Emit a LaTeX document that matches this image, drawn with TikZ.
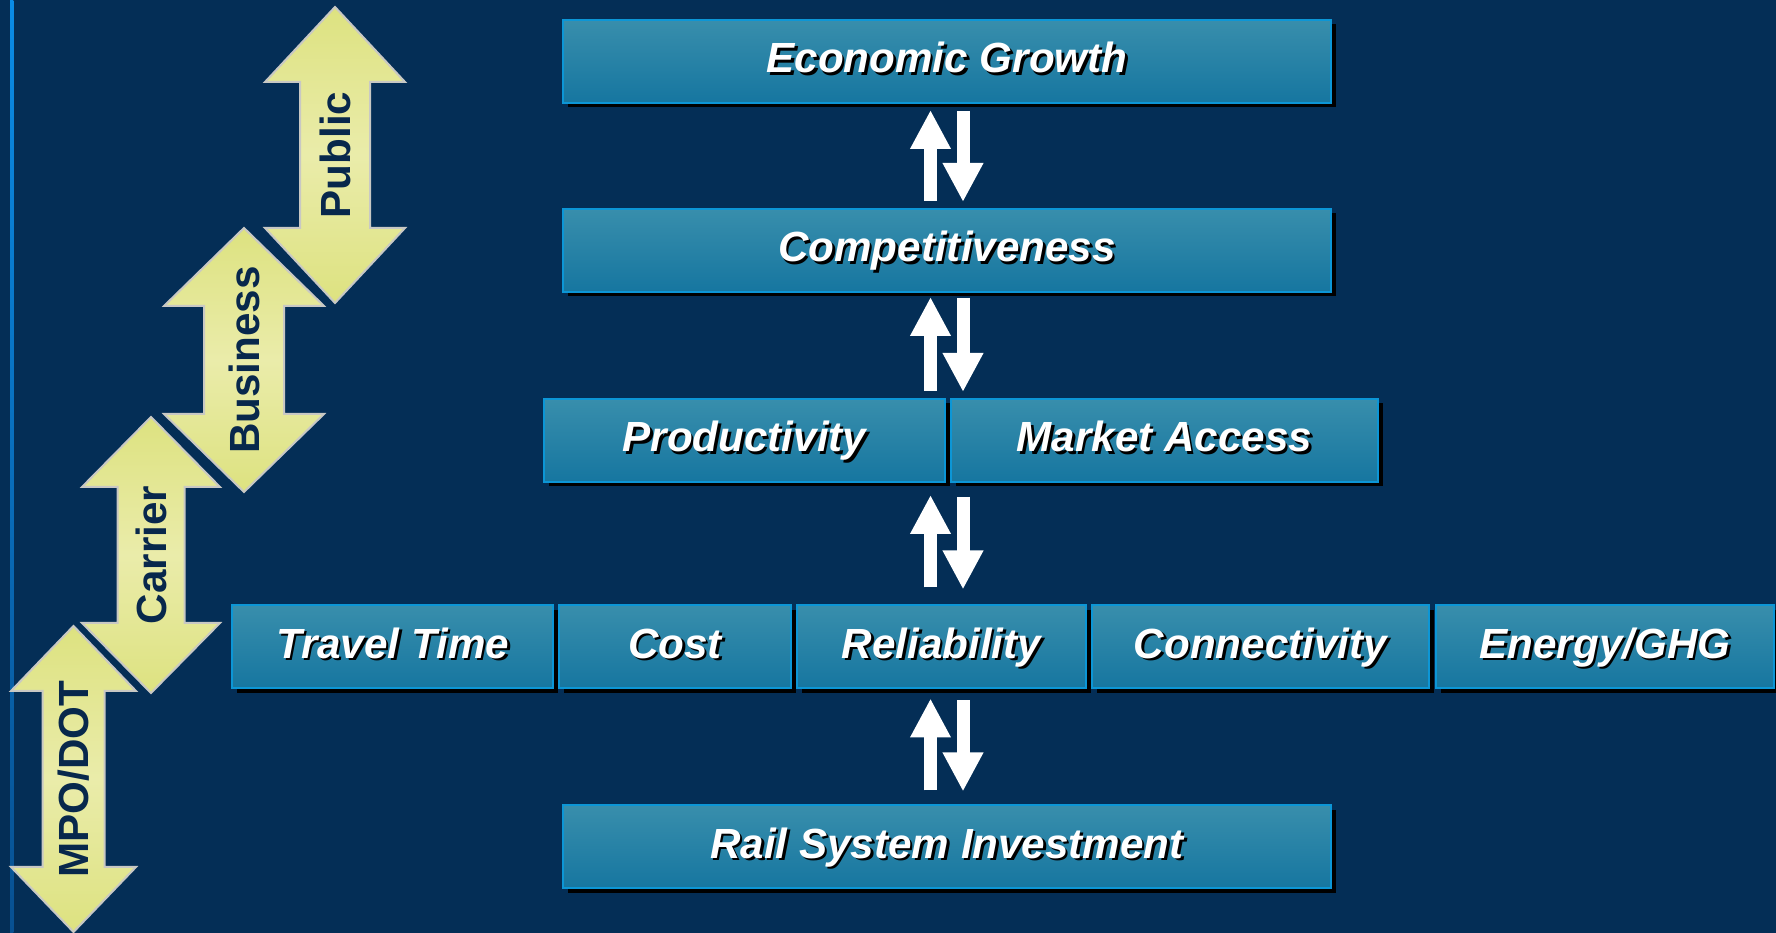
\documentclass[tikz,border=0pt]{standalone}
\usepackage{fontspec}
\setmainfont{Liberation Sans}
\usetikzlibrary{arrows.meta,shadows}

\definecolor{navybg}{RGB}{4,46,86}
\definecolor{edgeblue}{RGB}{12,150,214}
\definecolor{boxtop}{RGB}{56,142,172}
\definecolor{boxbot}{RGB}{22,118,160}
\definecolor{yelbright}{RGB}{221,226,128}
\definecolor{yelpale}{RGB}{234,236,170}
\definecolor{yeledge}{RGB}{200,200,196}
\definecolor{labelnavy}{RGB}{8,40,76}
\definecolor{sideblue}{RGB}{10,140,230}
\definecolor{sidedark}{RGB}{8,80,145}

\newcommand{\shtext}[1]{\makebox[0pt][l]{\hspace{0.025cm}\raisebox{-0.025cm}{\color{black}#1}}#1}

\tikzset{
  factor/.style={draw=edgeblue, line width=0.02cm, top color=boxtop, bottom color=boxbot,
    text=white, font=\fontsize{12}{14}\selectfont\bfseries\itshape,
    minimum height=0.83cm, inner sep=0pt, text height=0.32cm, text depth=0.09cm,
    drop shadow={shadow xshift=0.045cm, shadow yshift=-0.045cm, fill=black, opacity=1}},
  flow/.style={white, line width=0.13cm, -{Triangle[width=0.38cm,length=0.39cm]}},
  stake/.style={draw=yeledge, line width=0.02cm, top color=yelbright, bottom color=yelbright, middle color=yelpale},
  stakelabel/.style={rotate=90, text=labelnavy, font=\fontsize{12}{14}\selectfont\bfseries}
}

\begin{document}
\begin{tikzpicture}
    \fill[navybg] (0,0) rectangle (17.76,9.33);
    \useasboundingbox (0,0) rectangle (17.76,9.33);
    \shade[top color=sideblue, bottom color=sidedark] (0.10,0) rectangle (0.135,9.33);

%% stakeholder arrows on the left
    \draw[stake] (3.35,9.26) -- (4.05,8.51) -- (3.70,8.51) -- (3.70,7.05) -- (4.05,7.05) -- (3.35,6.30)
        -- (2.65,7.05) -- (3.00,7.05) -- (3.00,8.51) -- (2.65,8.51) -- cycle;
    \node[stakelabel] (pub) at (3.35,7.78) {Public};
    \draw[stake] (2.44,7.05) -- (3.24,6.27) -- (2.84,6.27) -- (2.84,5.19) -- (3.24,5.19) -- (2.44,4.41)
        -- (1.64,5.19) -- (2.04,5.19) -- (2.04,6.27) -- (1.64,6.27) -- cycle;
    \node[stakelabel] (bus) at (2.44,5.73) {Business};
    \draw[stake] (1.51,5.16) -- (2.20,4.46) -- (1.845,4.46) -- (1.845,3.10) -- (2.20,3.10) -- (1.51,2.40)
        -- (0.82,3.10) -- (1.175,3.10) -- (1.175,4.46) -- (0.82,4.46) -- cycle;
    \node[stakelabel] (car) at (1.51,3.78) {Carrier};
    \draw[stake] (0.735,3.07) -- (1.36,2.42) -- (1.045,2.42) -- (1.045,0.66) -- (1.36,0.66) -- (0.735,0.01)
        -- (0.11,0.66) -- (0.425,0.66) -- (0.425,2.42) -- (0.11,2.42) -- cycle;
    \node[stakelabel] (mpo) at (0.735,1.54) {MPO/DOT};

%% chain of factors
    \node[factor, minimum width=7.68cm] (eg) at (9.47,8.715) {\shtext{Economic Growth}};
    \node[factor, minimum width=7.68cm] (comp) at (9.47,6.825) {\shtext{Competitiveness}};
    \node[factor, minimum width=4.01cm] (prod) at (7.445,4.925) {\shtext{Productivity}};
    \node[factor, minimum width=4.27cm] (mkt) at (11.645,4.925) {\shtext{Market Access}};
    \node[factor, minimum width=3.21cm] (tt) at (3.925,2.86) {\shtext{Travel Time}};
    \node[factor, minimum width=2.32cm] (cost) at (6.75,2.86) {\shtext{Cost}};
    \node[factor, minimum width=2.89cm] (rel) at (9.415,2.86) {\shtext{Reliability}};
    \node[factor, minimum width=3.37cm] (conn) at (12.605,2.86) {\shtext{Connectivity}};
    \node[factor, minimum width=3.38cm] (ener) at (16.05,2.86) {\shtext{Energy/GHG}};
    \node[factor, minimum width=7.68cm] (rail) at (9.47,0.86) {\shtext{Rail System Investment}};

    \coordinate (upx) at (9.305,0);
    \coordinate (dnx) at (9.63,0);
    \draw[flow, shorten <=0.07cm, shorten >=0.06cm] (comp.north -| upx) -- (eg.south -| upx);
    \draw[flow, shorten <=0.07cm, shorten >=0.06cm] (eg.south -| dnx) -- (comp.north -| dnx);
    \draw[flow, shorten <=0.07cm, shorten >=0.04cm] (prod.north -| upx) -- (comp.south -| upx);
    \draw[flow, shorten <=0.05cm, shorten >=0.06cm] (comp.south -| dnx) -- (mkt.north -| dnx);
    \draw[flow, shorten <=0.17cm, shorten >=0.12cm] (rel.north -| upx) -- (prod.south -| upx);
    \draw[flow, shorten <=0.14cm, shorten >=0.15cm] (mkt.south -| dnx) -- (rel.north -| dnx);
    \draw[flow, shorten <=0.14cm, shorten >=0.09cm] (rail.north -| upx) -- (rel.south -| upx);
    \draw[flow, shorten <=0.11cm, shorten >=0.13cm] (rel.south -| dnx) -- (rail.north -| dnx);
\end{tikzpicture}
\end{document}
